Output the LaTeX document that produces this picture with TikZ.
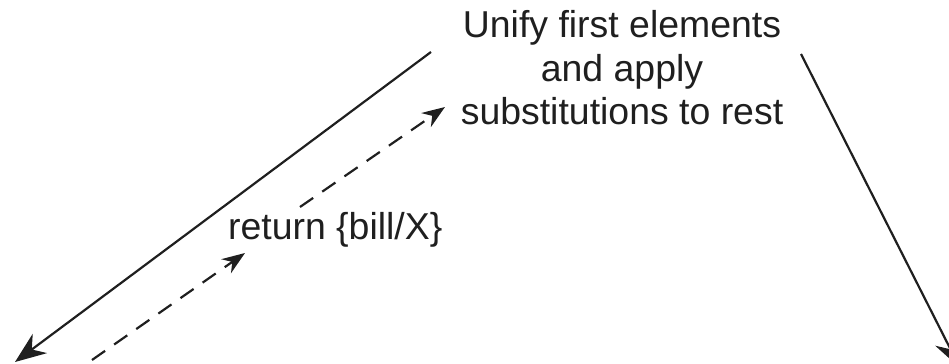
\documentclass[tikz,border=0pt]{standalone}
\usepackage{fontspec}
\setmainfont{Liberation Sans}
\usetikzlibrary{arrows.meta, positioning}

\begin{document}
\begin{tikzpicture}[x=0.02cm, y=-0.02cm, line width=1.25pt, black!88,
  every node/.style={font=\fontsize{21.3}{24.8}\selectfont, inner sep=0pt, black!88}]
  \useasboundingbox (0,0) rectangle (949,364);
  % Step label and returned binding
  \node[align=center, anchor=base] (unify) at (622,125) {Unify first elements\\and apply\\substitutions to rest};
  \node[anchor=base west] (ret) at (227,240) {return \{bill/X\}};

  % Ends of the connectors
  \coordinate (L1) at (431,52);
  \coordinate (L2) at (15,362);
  \coordinate (R1) at (801,54);
  \coordinate (R2) at (960,368);
  \coordinate (D1) at (92,360);
  \coordinate (D2) at (245,253);
  \coordinate (D3) at (300,207);
  \coordinate (D4) at (445,107);

  \draw[-{Stealth[length=0.62cm, width=0.48cm]}] (L1) -- (L2);
  \draw[-{Stealth[length=0.62cm, width=0.48cm]}] (R1) -- (R2);
  \draw[-{Stealth[length=0.46cm, width=0.34cm]}, dash pattern=on 0.32cm off 0.22cm] (D1) -- (D2);
  \draw[-{Stealth[length=0.46cm, width=0.34cm]}, dash pattern=on 0.32cm off 0.22cm] (D3) -- (D4);
\end{tikzpicture}
\end{document}
